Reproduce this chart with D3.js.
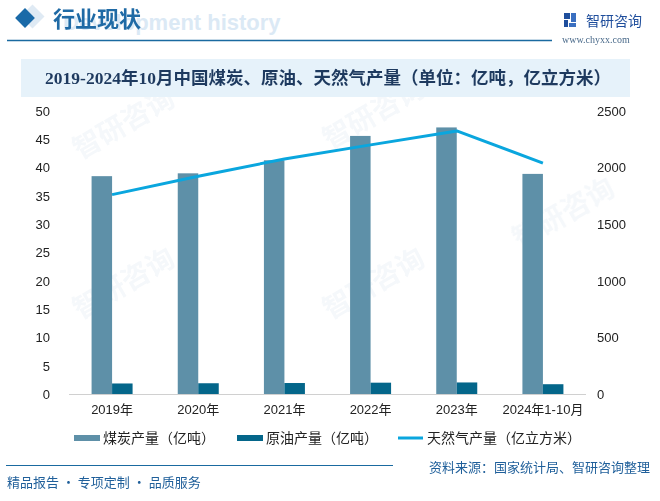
<!DOCTYPE html>
<html><head><meta charset="utf-8">
<script src="https://cdn.jsdelivr.net/npm/d3@7/dist/d3.min.js"></script>
<style>
html,body{margin:0;padding:0;background:#fff;}
svg{display:block;}
</style></head>
<body>
<svg id="c" width="660" height="501"></svg>
<script>
const categories = ["2019年","2020年","2021年","2022年","2023年","2024年1-10月"];
const coal = [38.5, 39.0, 41.3, 45.6, 47.1, 38.9];
const oil = [1.91, 1.95, 1.99, 2.05, 2.09, 1.78];
const gas = [1762, 1925, 2076, 2201, 2324, 2040];
const leftTicks = [0,5,10,15,20,25,30,35,40,45,50];
const rightTicks = [0,500,1000,1500,2000,2500];
const seriesNames = ["煤炭产量（亿吨）","原油产量（亿吨）","天然气产量（亿立方米）"];
const title = "2019-2024年10月中国煤炭、原油、天然气产量（单位：亿吨，亿立方米）";

const C_COAL = "#5e90a8", C_OIL = "#04668a", C_GAS = "#0aa6de";
const svg = d3.select("#c");
const cjk = "'Noto Sans CJK SC', sans-serif";
const num = "'Liberation Sans', 'Noto Sans CJK SC', sans-serif";

// faint watermarks
const wm = svg.append("g").attr("opacity", 0.045).attr("fill", "#1f5f9a");
[[80,160],[80,320],[330,150],[330,320],[520,250]].forEach(([x,y])=>{
  wm.append("text").attr("x",x).attr("y",y).attr("transform",`rotate(-30,${x},${y})`)
    .attr("font-family",cjk).attr("font-size",28).attr("font-weight","bold").text("智研咨询");
});

// header
svg.append("text").attr("x",63).attr("y",30).attr("font-family","'Liberation Sans',sans-serif")
  .attr("font-weight","bold").attr("font-size",22).attr("fill","#dbe9f5").text("Development history");
svg.append("rect").attr("x",24).attr("y",8).attr("width",17).attr("height",17)
  .attr("transform","rotate(45,32.5,16.5)").attr("fill","#dfeaf4");
svg.append("rect").attr("x",18).attr("y",11).attr("width",14).attr("height",14)
  .attr("transform","rotate(45,25,18)").attr("fill","#1a6aa8");
svg.append("text").attr("x",53).attr("y",27).attr("font-family",cjk).attr("font-size",22)
  .attr("font-weight","bold").attr("fill","#1f6aa5").text("行业现状");
svg.append("line").attr("x1",7).attr("x2",552).attr("y1",40.5).attr("y2",40.5)
  .attr("stroke","#1a6aa0").attr("stroke-width",1.5);
// logo
const lg = svg.append("g").attr("fill","#1f4e9c");
lg.append("rect").attr("x",564).attr("y",13).attr("width",6).attr("height",6);
lg.append("rect").attr("x",564).attr("y",20).attr("width",4).attr("height",7);
lg.append("rect").attr("x",571).attr("y",13).attr("width",5).attr("height",9).attr("fill","#3a6fc0");
lg.append("rect").attr("x",569).attr("y",23).attr("width",7).attr("height",4).attr("fill","#3a6fc0");
svg.append("text").attr("x",586).attr("y",26).attr("font-family",cjk).attr("font-size",14)
  .attr("fill","#1f4e9c").text("智研咨询");
svg.append("text").attr("x",562).attr("y",43).attr("font-family","'Liberation Serif',serif").attr("font-size",10)
  .attr("fill","#4a6a8a").text("www.chyxx.com");

// title box
svg.append("rect").attr("x",21).attr("y",59).attr("width",609).attr("height",38).attr("fill","#e6f2fa");
svg.append("text").attr("x",328).attr("y",84).attr("text-anchor","middle")
  .attr("font-family","'Liberation Serif','Noto Sans CJK SC',serif").attr("font-weight","bold")
  .attr("font-size",17.5).attr("fill","#1e3a5f").text(title);

// scales
const x0 = d3.scaleBand().domain(categories).range([69,586]);
const yL = d3.scaleLinear().domain([0,50]).range([394.3,111]);
const yR = d3.scaleLinear().domain([0,2500]).range([394.3,111]);
const bw = 20.5;

// bars
const g = svg.append("g");
g.selectAll(".coal").data(categories).join("rect")
  .attr("x", d=>x0(d)+x0.bandwidth()/2-bw).attr("width",bw)
  .attr("y",(d,i)=>yL(coal[i])).attr("height",(d,i)=>yL(0)-yL(coal[i])).attr("fill",C_COAL);
g.selectAll(".oil").data(categories).join("rect")
  .attr("x", d=>x0(d)+x0.bandwidth()/2).attr("width",bw)
  .attr("y",(d,i)=>yL(oil[i])).attr("height",(d,i)=>yL(0)-yL(oil[i])).attr("fill",C_OIL);

// x axis line
svg.append("line").attr("x1",69).attr("x2",586).attr("y1",394.5).attr("y2",394.5)
  .attr("stroke","#d0d0d0").attr("stroke-width",1);

// line
const line = d3.line().x((d,i)=>x0(categories[i])+x0.bandwidth()/2).y(d=>yR(d));
svg.append("path").datum(gas).attr("d",line).attr("fill","none")
  .attr("stroke",C_GAS).attr("stroke-width",3).attr("stroke-linejoin","round");

// axes
const axL = svg.append("g").attr("transform","translate(50,0)")
  .call(d3.axisLeft(yL).tickValues(leftTicks).tickFormat(d3.format("d")).tickSize(0).tickPadding(0));
const axR = svg.append("g").attr("transform","translate(597,0)")
  .call(d3.axisRight(yR).tickValues(rightTicks).tickFormat(d3.format("d")).tickSize(0).tickPadding(0));
const axB = svg.append("g").attr("transform","translate(0,394.5)")
  .call(d3.axisBottom(x0).tickSize(0).tickPadding(10));
[axL,axR,axB].forEach(a=>{
  a.select(".domain").remove();
  a.selectAll("text").attr("font-family",num).attr("font-size",13).attr("fill","#222");
});

// legend
const leg = svg.append("g");
const lgx = [[74,C_COAL,"rect"],[237,C_OIL,"rect"],[398,C_GAS,"line"]];
lgx.forEach(([x,c,t],i)=>{
  if(t==="rect") leg.append("rect").attr("x",x).attr("y",435).attr("width",26).attr("height",6).attr("fill",c);
  else leg.append("line").attr("x1",x).attr("x2",x+25).attr("y1",438).attr("y2",438).attr("stroke",c).attr("stroke-width",3);
  leg.append("text").attr("x",x+29).attr("y",443).attr("font-family",cjk).attr("font-size",14)
    .attr("fill","#222").text(seriesNames[i]);
});

// footer
svg.append("line").attr("x1",6).attr("x2",393).attr("y1",465.5).attr("y2",465.5)
  .attr("stroke","#1a6aa0").attr("stroke-width",1.2);
svg.append("text").attr("x",650).attr("y",472).attr("text-anchor","end").attr("font-family",cjk)
  .attr("font-size",13).attr("fill","#1f5f9a").text("资料来源：国家统计局、智研咨询整理");
svg.append("text").attr("x",7).attr("y",487).attr("font-family",cjk)
  .attr("font-size",13).attr("fill","#1f5f9a").text("精品报告 · 专项定制 · 品质服务");
</script>
</body></html>
